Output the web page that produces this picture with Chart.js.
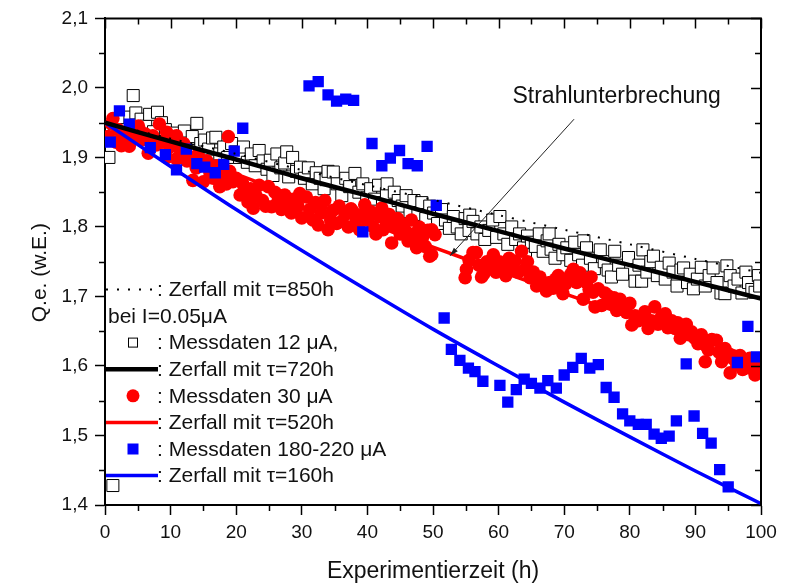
<!DOCTYPE html>
<html>
<head>
<meta charset="utf-8">
<script src="https://cdn.jsdelivr.net/npm/chart.js@4.4.1/dist/chart.umd.min.js"></script>
<style>
  html, body { margin: 0; padding: 0; background: #fff; }
  #wrap { width: 793px; height: 583px; position: relative; }
</style>
</head>
<body>
<div id="wrap"><canvas id="qeChart"></canvas></div>
<script>
const FONT = "'Liberation Sans', Arial, sans-serif";

// Achsenbeschriftung
const xTickLabels = ['0', '10', '20', '30', '40', '50', '60', '70', '80', '90', '100'];
const yTickLabels = ['1,4', '1,5', '1,6', '1,7', '1,8', '1,9', '2,0', '2,1'];
const yTitel = 'Q.e. (w.E.)';

// Zerfallskurven [Zeit (h), Q.e.]
const zerfall850 = [[0, 1.950], [10, 1.927], [20, 1.905], [30, 1.882], [40, 1.860], [50, 1.839],
  [60, 1.817], [70, 1.796], [80, 1.775], [90, 1.754], [100, 1.734]];
const zerfall720 = [[0, 1.950], [10, 1.923], [20, 1.897], [30, 1.870], [40, 1.845], [50, 1.819],
  [60, 1.794], [70, 1.769], [80, 1.745], [90, 1.721], [100, 1.697]];
const zerfall520 = [[0, 1.950], [10, 1.913], [20, 1.876], [30, 1.841], [40, 1.806], [50, 1.771],
  [60, 1.737], [70, 1.704], [80, 1.672], [90, 1.640], [100, 1.609]];
const zerfall160 = [[0, 1.950], [10, 1.887], [20, 1.825], [30, 1.766], [40, 1.709], [50, 1.653],
  [60, 1.600], [70, 1.548], [80, 1.498], [90, 1.449], [100, 1.402]];

// Messdaten 12 µA
const mess12 = [
  [0.6, 1.900], [1.2, 1.428], [1.5, 1.935], [2.0, 1.945], [2.4, 1.952], [3.2, 1.940], [3.8, 1.958], [4.3, 1.989], [4.7, 1.964],
  [5.5, 1.955], [5.9, 1.932], [6.2, 1.945], [6.8, 1.962], [7.4, 1.937], [8.0, 1.965], [8.6, 1.950], [9.2, 1.940], [9.8, 1.925],
  [10.3, 1.935], [10.8, 1.930], [11.5, 1.925], [12.1, 1.938], [12.7, 1.918], [13.3, 1.930], [13.8, 1.910], [14.0, 1.949], [14.6, 1.920],
  [15.2, 1.925], [15.8, 1.912], [16.4, 1.928], [16.9, 1.929], [17.5, 1.905], [18.1, 1.915], [18.7, 1.900], [19.3, 1.920], [19.9, 1.908],
  [20.5, 1.900], [21.1, 1.915], [21.7, 1.893], [22.3, 1.905], [22.9, 1.888], [23.5, 1.910], [24.1, 1.895], [24.7, 1.883], [25.2, 1.896],
  [25.6, 1.874], [26.2, 1.905], [26.8, 1.885], [27.4, 1.892], [27.7, 1.908], [28.0, 1.872], [28.6, 1.900], [29.2, 1.880], [29.8, 1.886],
  [30.4, 1.870], [31.0, 1.885], [31.6, 1.862], [32.2, 1.878], [32.8, 1.870], [33.4, 1.855], [33.7, 1.868], [34.0, 1.880], [34.8, 1.879],
  [35.4, 1.862], [36.1, 1.845], [36.7, 1.870], [37.3, 1.858], [38.1, 1.877], [38.7, 1.850], [39.3, 1.862], [39.9, 1.842],
  [40.5, 1.855], [41.1, 1.840], [41.7, 1.860], [42.3, 1.835], [42.9, 1.848], [43.0, 1.862], [43.5, 1.828], [44.1, 1.850], [44.7, 1.838],
  [45.3, 1.830], [45.9, 1.845], [46.5, 1.822], [47.1, 1.838], [47.7, 1.818], [48.3, 1.835], [48.9, 1.812], [49.5, 1.830], [50.1, 1.820],
  [50.7, 1.805], [51.3, 1.825], [51.9, 1.810], [52.5, 1.798], [53.1, 1.815], [53.7, 1.800], [54.3, 1.790], [54.9, 1.812], [55.5, 1.795], [55.6, 1.817],
  [56.1, 1.808], [56.7, 1.790], [57.3, 1.800], [57.9, 1.782], [58.5, 1.795], [59.1, 1.810], [59.7, 1.785], [60.2, 1.815],
  [60.8, 1.790], [61.4, 1.775], [62.0, 1.800], [62.6, 1.782], [63.2, 1.790], [63.8, 1.770], [64.1, 1.760], [64.4, 1.787], [65.0, 1.778],
  [65.6, 1.772], [66.2, 1.790], [66.8, 1.765], [67.4, 1.780], [67.7, 1.790], [68.0, 1.768], [68.6, 1.755], [69.2, 1.775], [69.8, 1.760],
  [70.4, 1.770], [71.0, 1.752], [71.6, 1.778], [72.2, 1.760], [72.8, 1.745], [73.0, 1.780], [73.4, 1.770], [74.0, 1.755], [74.6, 1.740],
  [75.5, 1.767], [76.1, 1.750], [76.7, 1.738], [77.2, 1.728], [77.7, 1.765], [78.3, 1.745], [78.9, 1.732], [79.8, 1.756],
  [80.8, 1.722], [81.4, 1.745], [81.8, 1.722], [82.0, 1.767], [82.6, 1.735], [83.2, 1.750], [83.6, 1.758], [84.2, 1.730], [84.8, 1.742],
  [85.4, 1.725], [86.0, 1.748], [86.6, 1.735], [87.2, 1.715], [87.8, 1.738], [88.2, 1.741], [88.8, 1.720], [89.2, 1.732], [89.7, 1.711],
  [90.3, 1.725], [90.9, 1.742], [91.5, 1.715], [92.1, 1.730], [92.7, 1.741], [93.3, 1.720], [93.9, 1.705], [94.5, 1.704], [94.8, 1.744], [95.3, 1.730],
  [95.9, 1.715], [96.5, 1.725], [97.1, 1.705], [97.7, 1.735], [98.1, 1.720], [98.6, 1.710], [99.1, 1.706], [99.6, 1.730], [99.8, 1.715]
];

// Messdaten 30 µA
const mess30 = [
  [0.5, 1.930], [1.0, 1.948], [1.2, 1.956], [1.7, 1.922], [2.0, 1.940], [2.5, 1.917], [3.0, 1.932], [3.7, 1.916], [4.2, 1.928], [4.6, 1.940], [5.1, 1.945],
  [5.6, 1.925], [6.1, 1.934], [6.6, 1.906], [7.3, 1.931], [7.8, 1.918], [8.3, 1.948], [8.8, 1.922], [9.4, 1.936], [9.4, 1.900], [9.9, 1.915],
  [10.4, 1.925], [10.9, 1.931], [10.9, 1.898], [11.5, 1.910], [12.0, 1.920], [12.5, 1.895], [13.0, 1.900], [13.4, 1.867], [13.9, 1.885], [14.2, 1.905], [14.5, 1.888], [15.0, 1.865],
  [15.5, 1.895], [16.0, 1.878], [16.5, 1.870], [17.0, 1.888], [17.5, 1.858], [18.0, 1.875], [18.5, 1.862], [18.8, 1.930], [19.0, 1.880], [19.5, 1.865], [20.0, 1.870],
  [20.6, 1.846], [21.0, 1.862], [21.4, 1.850], [21.8, 1.836], [22.2, 1.855], [22.6, 1.827], [23.0, 1.845], [23.5, 1.860], [24.0, 1.838], [24.5, 1.830], [24.9, 1.858], [25.4, 1.829],
  [25.9, 1.850], [26.4, 1.838], [26.9, 1.825], [27.4, 1.846], [27.9, 1.832], [28.4, 1.820], [28.9, 1.840], [29.4, 1.830], [29.7, 1.848], [30.0, 1.813],
  [30.7, 1.843], [31.2, 1.825], [31.7, 1.810], [32.1, 1.835], [32.5, 1.803], [33.0, 1.820], [33.5, 1.838], [34.0, 1.796], [34.4, 1.810], [34.8, 1.824], [35.3, 1.805],
  [35.7, 1.830], [36.1, 1.808], [36.6, 1.818], [37.1, 1.800], [37.5, 1.826], [37.8, 1.822], [38.3, 1.810], [38.8, 1.796], [39.2, 1.818], [39.6, 1.832], [40.0, 1.810],
  [40.5, 1.822], [40.9, 1.800], [41.3, 1.790], [41.8, 1.815], [42.2, 1.827], [42.4, 1.796], [42.9, 1.805], [43.3, 1.818], [43.7, 1.777], [44.1, 1.800], [44.6, 1.812], [45.0, 1.790],
  [45.3, 1.805], [45.7, 1.796], [46.2, 1.780], [46.7, 1.810], [47.1, 1.790], [47.5, 1.770], [47.9, 1.800], [48.4, 1.785], [48.8, 1.772], [49.2, 1.795], [49.5, 1.758], [49.8, 1.796], [49.8, 1.760], [50.3, 1.789],
  [54.9, 1.727], [55.1, 1.739], [55.5, 1.752], [56.1, 1.763], [56.6, 1.763], [57.0, 1.745], [57.4, 1.728], [57.7, 1.732], [58.2, 1.750], [58.7, 1.740], [59.2, 1.760], [59.6, 1.735], [60.1, 1.750],
  [60.7, 1.744], [61.1, 1.730], [61.6, 1.755], [62.0, 1.742], [62.5, 1.751], [63.0, 1.735], [63.5, 1.765], [64.0, 1.739], [64.4, 1.750], [64.8, 1.727], [65.3, 1.735],
  [65.8, 1.715], [66.3, 1.728], [66.8, 1.720], [67.3, 1.708], [67.8, 1.720], [68.3, 1.712], [68.7, 1.725], [69.1, 1.730], [69.5, 1.715], [69.8, 1.704], [70.2, 1.718],
  [70.6, 1.725], [71.0, 1.732], [71.4, 1.739], [71.9, 1.720], [72.4, 1.734], [72.9, 1.696], [73.4, 1.720], [73.8, 1.710], [74.1, 1.728], [74.4, 1.706], [74.7, 1.685], [75.2, 1.711],
  [75.7, 1.687], [76.2, 1.705], [76.7, 1.701], [77.1, 1.690], [77.6, 1.698], [78.0, 1.680], [78.5, 1.696], [79.0, 1.685], [79.5, 1.677], [80.0, 1.690], [80.3, 1.659],
  [80.8, 1.672], [81.3, 1.665], [81.8, 1.668], [82.3, 1.678], [82.8, 1.654], [83.3, 1.665], [83.8, 1.685], [84.3, 1.660], [84.8, 1.670], [85.4, 1.675],
  [85.8, 1.655], [86.4, 1.665], [86.9, 1.654], [87.3, 1.662], [87.7, 1.640], [88.2, 1.655], [88.6, 1.660], [89.0, 1.645], [89.4, 1.649], [89.9, 1.640],
  [90.4, 1.632], [90.9, 1.645], [91.5, 1.606], [91.7, 1.628], [92.0, 1.623], [92.5, 1.638], [93.2, 1.637], [93.6, 1.620], [94.0, 1.606], [94.5, 1.625], [95.0, 1.618],
  [95.3, 1.590], [95.8, 1.610], [96.3, 1.602], [96.8, 1.615], [97.2, 1.595], [97.6, 1.597], [98.0, 1.605], [98.3, 1.611], [98.8, 1.595], [99.1, 1.587], [99.6, 1.602], [99.9, 1.595]
];

// Messdaten 180-220 µA
const mess200 = [
  [0.8, 1.922], [2.2, 1.967], [3.7, 1.948], [6.9, 1.914], [9.2, 1.904], [10.9, 1.882], [12.4, 1.912], [14.0, 1.891], [15.2, 1.886], [16.8, 1.878],
  [18.1, 1.890], [19.7, 1.909], [21.0, 1.942], [31.1, 2.003], [32.5, 2.009], [34.0, 1.990], [35.3, 1.981], [36.7, 1.984], [37.9, 1.982], [39.3, 1.793],
  [40.7, 1.920], [42.2, 1.888], [43.5, 1.899], [44.9, 1.910], [46.2, 1.891], [47.6, 1.888], [49.1, 1.916], [50.5, 1.831], [51.7, 1.669], [52.8, 1.624],
  [54.1, 1.608], [55.4, 1.597], [56.4, 1.592], [57.6, 1.578], [60.2, 1.572], [61.4, 1.548], [62.7, 1.566], [63.9, 1.581], [65.0, 1.575], [66.3, 1.568],
  [67.5, 1.579], [68.8, 1.568], [70.0, 1.587], [71.3, 1.598], [72.6, 1.611], [73.9, 1.597], [75.2, 1.602], [76.4, 1.569], [77.6, 1.555], [78.9, 1.531],
  [80.0, 1.521], [81.3, 1.516], [82.5, 1.516], [83.7, 1.502], [84.8, 1.496], [86.0, 1.499], [87.1, 1.521], [88.6, 1.603], [89.8, 1.528], [91.1, 1.503],
  [92.4, 1.489], [93.7, 1.451], [95.0, 1.426], [96.4, 1.605], [98.0, 1.657], [99.3, 1.613]
];

// Anmerkung: Strahlunterbrechung
const notizText = 'Strahlunterbrechung';
const notizPos = [78.0, 1.988];
const pfeilStart = [71.5, 1.955];
const pfeilEnde = [52.6, 1.7585];

const toXY = arr => arr.map(p => ({ x: p[0], y: p[1] }));

function kurve(data, color, width, dash) {
  return {
    type: 'line',
    data: toXY(data),
    borderColor: color,
    borderWidth: width,
    borderDash: dash || [],
    pointRadius: 0,
    fill: false,
    tension: 0.3
  };
}

// Rahmen oben/rechts, Nebenstriche und y-Achsentitel
const rahmenPlugin = {
  id: 'rahmen',
  afterDraw(chart) {
    const { ctx, chartArea: a, scales: { x, y } } = chart;
    ctx.save();
    ctx.strokeStyle = '#000';
    ctx.lineWidth = 2;
    ctx.beginPath();
    ctx.moveTo(a.left, a.top);
    ctx.lineTo(a.right, a.top);
    ctx.lineTo(a.right, a.bottom);
    ctx.stroke();

    ctx.lineWidth = 1.5;
    ctx.beginPath();
    for (let v = 0; v <= 100; v += 5) {
      const px = Math.round(x.getPixelForValue(v)) + 0.5;
      const major = v % 10 === 0;
      const len = major ? 10 : 6;
      if (!major) {
        ctx.moveTo(px, a.bottom);
        ctx.lineTo(px, a.bottom + len);
      }
      ctx.moveTo(px, a.top);
      ctx.lineTo(px, a.top + len);
    }
    for (let i = 0; i <= 14; i++) {
      const v = 1.4 + i * 0.05;
      const py = Math.round(y.getPixelForValue(v)) + 0.5;
      const major = i % 2 === 0;
      const len = major ? 10 : 6;
      if (!major) {
        ctx.moveTo(a.left, py);
        ctx.lineTo(a.left - len, py);
      }
      ctx.moveTo(a.right, py);
      ctx.lineTo(a.right - len, py);
    }
    ctx.stroke();

    // y-Titel etwas unterhalb der Mitte, wie im Original
    ctx.translate(40, (a.top + a.bottom) / 2 + 11);
    ctx.rotate(-Math.PI / 2);
    ctx.font = '21px ' + FONT;
    ctx.fillStyle = '#111';
    ctx.textAlign = 'center';
    ctx.textBaseline = 'middle';
    ctx.fillText(yTitel, 0, 0);
    ctx.restore();
  }
};

// Legende (links unten im Diagramm) und Pfeil-Anmerkung
const legendePlugin = {
  id: 'legende',
  afterDraw(chart) {
    const { ctx, chartArea: a, scales: { x, y } } = chart;
    ctx.save();
    ctx.font = '21px ' + FONT;
    ctx.fillStyle = '#111';
    ctx.textBaseline = 'middle';

    const y0 = a.top + 271;
    const step = 26.6;
    const sx = a.left + 1, ex = a.left + 53, cx = a.left + 28, tx = a.left + 52;
    const rows = [
      { kind: 'line', color: '#000', width: 2, dash: [2, 9], text: ': Zerfall mit \u03c4=850h' },
      { kind: 'none', text: 'bei I=0.05\u03bcA', tx: a.left + 3 },
      { kind: 'box', text: ': Messdaten 12 \u03bcA,' },
      { kind: 'line', color: '#000', width: 4.5, text: ': Zerfall mit \u03c4=720h' },
      { kind: 'dot', text: ': Messdaten 30 \u03bcA' },
      { kind: 'line', color: '#ff0000', width: 3.5, text: ': Zerfall mit \u03c4=520h' },
      { kind: 'sq', text: ': Messdaten 180-220 \u03bcA' },
      { kind: 'line', color: '#0000ff', width: 3.5, text: ': Zerfall mit \u03c4=160h' }
    ];
    rows.forEach((r, i) => {
      const ry = y0 + i * step;
      if (r.kind === 'line') {
        ctx.save();
        ctx.strokeStyle = r.color;
        ctx.lineWidth = r.width;
        ctx.setLineDash(r.dash || []);
        ctx.beginPath();
        ctx.moveTo(sx, ry);
        ctx.lineTo(ex, ry);
        ctx.stroke();
        ctx.restore();
      } else if (r.kind === 'box') {
        ctx.save();
        ctx.fillStyle = '#fff';
        ctx.strokeStyle = '#000';
        ctx.lineWidth = 1;
        ctx.fillRect(cx - 4.5, ry - 4.5, 9, 9);
        ctx.strokeRect(cx - 4.5, ry - 4.5, 9, 9);
        ctx.restore();
      } else if (r.kind === 'dot') {
        ctx.save();
        ctx.fillStyle = '#ff0000';
        ctx.beginPath();
        ctx.arc(cx, ry, 6.5, 0, Math.PI * 2);
        ctx.fill();
        ctx.restore();
      } else if (r.kind === 'sq') {
        ctx.save();
        ctx.fillStyle = '#0000ff';
        ctx.fillRect(cx - 5.5, ry - 5.5, 11, 11);
        ctx.restore();
      }
      ctx.fillText(r.text, r.tx || tx, ry + 1);
    });

    // Anmerkung
    ctx.font = '23px ' + FONT;
    ctx.textAlign = 'center';
    ctx.fillText(notizText, x.getPixelForValue(notizPos[0]), y.getPixelForValue(notizPos[1]));

    const x1 = x.getPixelForValue(pfeilStart[0]), y1 = y.getPixelForValue(pfeilStart[1]);
    const x2 = x.getPixelForValue(pfeilEnde[0]), y2 = y.getPixelForValue(pfeilEnde[1]);
    ctx.strokeStyle = '#222';
    ctx.fillStyle = '#222';
    ctx.lineWidth = 1;
    ctx.beginPath();
    ctx.moveTo(x1, y1);
    ctx.lineTo(x2, y2);
    ctx.stroke();
    const ang = Math.atan2(y2 - y1, x2 - x1);
    ctx.beginPath();
    ctx.moveTo(x2, y2);
    ctx.lineTo(x2 - 9 * Math.cos(ang - 0.3), y2 - 9 * Math.sin(ang - 0.3));
    ctx.lineTo(x2 - 9 * Math.cos(ang + 0.3), y2 - 9 * Math.sin(ang + 0.3));
    ctx.closePath();
    ctx.fill();
    ctx.restore();
  }
};

const ctx = document.getElementById('qeChart');
new Chart(ctx, {
  type: 'scatter',
  data: {
    datasets: [
      kurve(zerfall720, '#000000', 4.5),
      kurve(zerfall850, '#000000', 2, [2, 9]),
      kurve(zerfall160, '#0000ff', 3.5),
      {
        data: toXY(mess200),
        pointStyle: 'rect',
        pointRadius: 8,
        backgroundColor: '#0000ff',
        borderColor: '#0000ff',
        borderWidth: 0
      },
      kurve(zerfall520, '#ff0000', 3.5),
      {
        data: toXY(mess30),
        pointStyle: 'circle',
        pointRadius: 6.8,
        backgroundColor: '#ff0000',
        borderColor: '#ff0000',
        borderWidth: 0
      },
      {
        data: toXY(mess12),
        pointStyle: 'rect',
        pointRadius: 8.5,
        backgroundColor: '#ffffff',
        borderColor: '#000000',
        borderWidth: 1
      }
    ]
  },
  options: {
    responsive: true,
    maintainAspectRatio: false,
    animation: false,
    layout: { padding: { left: 0, right: 32, top: 13, bottom: 0 } },
    plugins: {
      legend: { display: false },
      tooltip: { enabled: false }
    },
    scales: {
      x: {
        type: 'linear',
        min: 0,
        max: 100,
        afterFit(scale) { scale.height = 78; },
        border: { display: true, color: '#000', width: 2 },
        grid: { drawOnChartArea: false, drawTicks: true, tickLength: 10, tickColor: '#000', tickWidth: 1.5 },
        ticks: {
          stepSize: 10,
          padding: 6,
          color: '#111',
          font: { family: FONT, size: 19 },
          maxRotation: 0,
          callback: v => xTickLabels[Math.round(v / 10)]
        },
        title: {
          display: true,
          text: 'Experimentierzeit (h)',
          color: '#111',
          font: { family: FONT, size: 23, lineHeight: 1 },
          padding: { top: 0, bottom: 0 }
        }
      },
      y: {
        type: 'linear',
        min: 1.4,
        max: 2.1,
        afterFit(scale) { scale.width = 105; },
        border: { display: true, color: '#000', width: 2 },
        grid: { drawOnChartArea: false, drawTicks: true, tickLength: 10, tickColor: '#000', tickWidth: 1.5 },
        ticks: {
          stepSize: 0.1,
          padding: 7,
          color: '#111',
          font: { family: FONT, size: 19 },
          callback: v => yTickLabels[Math.round((v - 1.4) * 10)]
        },
        title: { display: false }
      }
    }
  },
  plugins: [rahmenPlugin, legendePlugin]
});
</script>
</body>
</html>
